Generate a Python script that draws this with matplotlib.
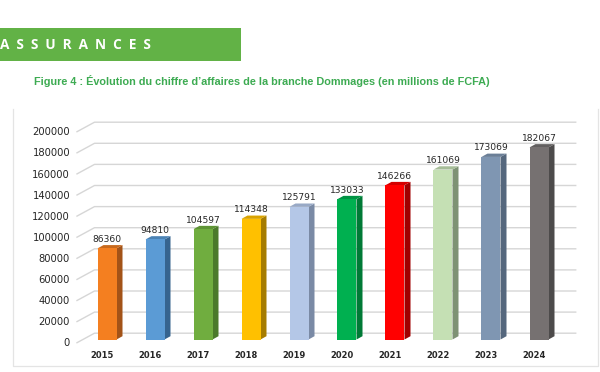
import matplotlib
matplotlib.use("Agg")
import matplotlib.pyplot as plt
from matplotlib.lines import Line2D
from matplotlib.patches import Rectangle

years = ["2015", "2016", "2017", "2018", "2019", "2020", "2021", "2022", "2023", "2024"]
values = [86360, 94810, 104597, 114348, 125791, 133033, 146266, 161069, 173069, 182067]
front_colors = ["#f47f20", "#5b9bd5", "#70ad3f", "#ffc000", "#b4c7e7", "#00b050", "#ff0000", "#c5e0b4", "#7f96b2", "#767171"]
side_colors = ["#a35318", "#36648f", "#4b7a2b", "#a67c00", "#7a8aa5", "#007a36", "#a00000", "#7e9274", "#55677d", "#4d4b4b"]
top_colors = ["#c8691c", "#4a82b4", "#5e9435", "#d9a300", "#98a9c6", "#009444", "#d40000", "#a6bd98", "#6b7f97", "#625f5f"]
y_ticks = [0, 20000, 40000, 60000, 80000, 100000, 120000, 140000, 160000, 180000, 200000]
title = "Figure 4 : Évolution du chiffre d’affaires de la branche Dommages (en millions de FCFA)"
banner = "A  S  S  U  R  A  N  C  E  S"

W, H = 600, 372
PX = 200000 / 211          # value units per pixel
fig = plt.figure(figsize=(W / 100, H / 100), dpi=100, facecolor="white")


def axes_px(left, right, top, bottom, **kw):
    return fig.add_axes([left / W, 1 - bottom / H, (right - left) / W, (bottom - top) / H], **kw)


# page furniture
fig.add_artist(Rectangle((0, 1 - 60.7 / H), 240.5 / W, 32.2 / H, transform=fig.transFigure,
                         facecolor="#62b246", edgecolor="none"))
fig.text(0.5 / W, 1 - 44.8 / H, banner, color="white", fontsize=9.8, fontweight="bold",
         family="Open Sans", va="center", ha="left")
fig.text(34 / W, 1 - 81 / H, title, color="#3dab52", fontsize=7.85, fontweight="bold",
         family="Liberation Sans", va="center", ha="left")
fig.add_artist(Line2D([12.5 / W, 12.5 / W, 598 / W, 598 / W],
                      [1 - 109 / H, 1 - 366 / H, 1 - 366 / H, 1 - 109 / H],
                      transform=fig.transFigure, color="#e4e4e4", lw=0.9))

# plotting axes: value 0 at the front foot of the bars
ax = axes_px(77, 600, 110, 339.5)
ax.set_xlim((77 - 107) / 48, (600 - 107) / 48)
ax.set_ylim(0, (339.5 - 110) * PX)
ax.axis("off")
ax.patch.set_alpha(0)

x0 = (77 - 107) / 48
x_back = x0 + 17.5 / 48
x_end = (575.7 - 107) / 48
for v in y_ticks:
    lo = v - 3.2 * PX
    hi = v + 6.3 * PX
    ax.plot([x0, x_back, x_end], [lo, hi, hi], color="#d6d6d6", lw=1.0, zorder=1, clip_on=False)

bw = 19 / 48
dx = 6 / 48
dy = 3.3 * PX
xs = list(range(len(values)))
ax.bar(xs, values, width=bw, color=front_colors, zorder=3, linewidth=0)
for i, v in enumerate(values):
    l, r = i - bw / 2, i + bw / 2
    ax.fill([r, r + dx, r + dx, r], [0, dy, v + dy, v], color=side_colors[i], lw=0, zorder=2)
    ax.fill([l, l + dx, r + dx, r], [v, v + dy, v + dy, v], color=top_colors[i], lw=0, zorder=2)
    ax.annotate(str(v), (i, v), xytext=(0, 9), textcoords="offset pixels", ha="center", va="center",
                fontsize=6.6, color="#262626", zorder=4)

# axis labels: sit on the front edge of the floor, slightly left of the bars
ax2 = axes_px(77 - 4.7, 600 - 4.7, 110 + 2.8, 339.5 + 2.8)
ax2.set_xlim((77 - 107) / 48, (600 - 107) / 48)
ax2.set_ylim(0, (339.5 - 110) * PX)
ax2.patch.set_alpha(0)
for s in ax2.spines.values():
    s.set_visible(False)
ax2.set_xticks(xs, years, fontsize=6, fontweight="bold", color="#262626")
ax2.set_yticks(y_ticks, [str(v) for v in y_ticks], fontsize=7.2, color="#262626")
ax2.tick_params(axis="both", length=0)
ax2.tick_params(axis="x", pad=6.5)
ax2.tick_params(axis="y", pad=1.6)
ax2.set_zorder(ax.get_zorder() - 1)

fig.savefig("out.png", dpi=100, facecolor="white")
